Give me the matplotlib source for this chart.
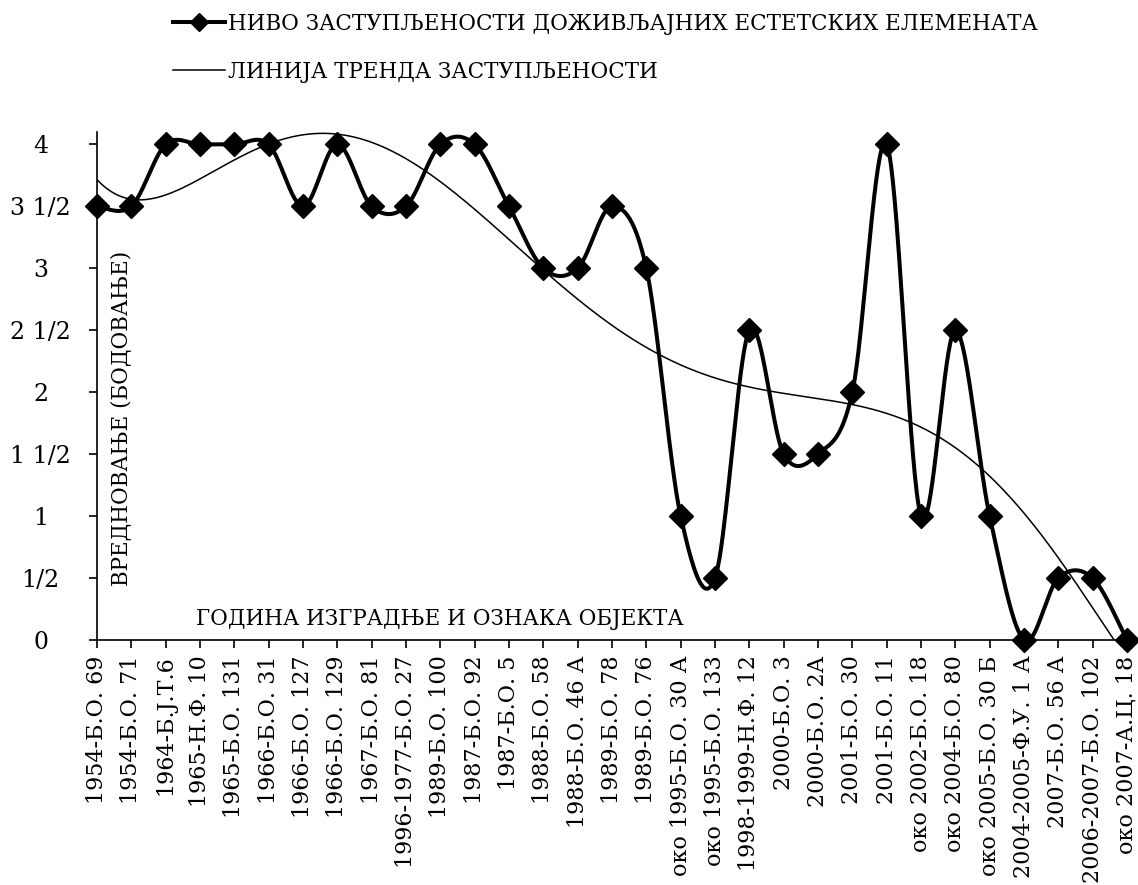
import numpy as np
import matplotlib
matplotlib.use("Agg")
import matplotlib.pyplot as plt

plt.rcParams["font.family"] = ["DejaVu Serif"]

labels = [
    "1954-Б.О. 69", "1954-Б.О. 71", "1964-Б.Ј.Т.6", "1965-Н.Ф. 10", "1965-Б.О. 131",
    "1966-Б.О. 31", "1966-Б.О. 127", "1966-Б.О. 129", "1967-Б.О. 81", "1996-1977-Б.О. 27",
    "1989-Б.О. 100", "1987-Б.О. 92", "1987-Б.О. 5", "1988-Б.О. 58", "1988-Б.О. 46 А",
    "1989-Б.О. 78", "1989-Б.О. 76", "око 1995-Б.О. 30 А", "око 1995-Б.О. 133",
    "1998-1999-Н.Ф. 12", "2000-Б.О. 3", "2000-Б.О. 2А", "2001-Б.О. 30", "2001-Б.О. 11",
    "око 2002-Б.О. 18", "око 2004-Б.О. 80", "око 2005-Б.О. 30 Б", "2004-2005-Ф.У. 1 А",
    "2007-Б.О. 56 А", "2006-2007-Б.О. 102", "око 2007-А.Ц. 18",
]
scores = [3.5, 3.5, 4, 4, 4, 4, 3.5, 4, 3.5, 3.5, 4, 4, 3.5, 3, 3, 3.5, 3,
          1, 0.5, 2.5, 1.5, 1.5, 2, 4, 1, 2.5, 1, 0, 0.5, 0.5, 0]
ytick_vals = [0, 0.5, 1, 1.5, 2, 2.5, 3, 3.5, 4]
ytick_text = ["0", "1/2", "1", "1 1/2", "2", "2 1/2", "3", "3 1/2", "4"]


def smooth_line(x, y, steps=40):
    """Cubic Bezier smoothing through every point (Catmull-Rom style)."""
    x = np.asarray(x, float)
    y = np.asarray(y, float)
    px = np.concatenate([[x[0]], x, [x[-1]]])
    py = np.concatenate([[y[0]], y, [y[-1]]])
    t = np.linspace(0, 1, steps)[:, None]
    xs, ys = [], []
    for i in range(1, len(x)):
        p0 = np.array([px[i], py[i]])
        p3 = np.array([px[i + 1], py[i + 1]])
        c1 = p0 + (p3 - np.array([px[i - 1], py[i - 1]])) / 6
        c2 = p3 - (np.array([px[i + 2], py[i + 2]]) - p0) / 6
        seg = ((1 - t) ** 3) * p0 + 3 * ((1 - t) ** 2) * t * c1 \
            + 3 * (1 - t) * t ** 2 * c2 + t ** 3 * p3
        xs.append(seg[:, 0])
        ys.append(seg[:, 1])
    return np.concatenate(xs), np.concatenate(ys)


x = np.arange(len(scores))
sx, sy = smooth_line(x, scores)

# polynomial trend of the scores
coef = np.polyfit(x + 1, scores, 6)
tx = np.linspace(0, len(scores) - 1, 400)
ty = np.polyval(coef, tx + 1)

fig = plt.figure(figsize=(11.38, 8.85), dpi=100)
ax = fig.add_axes([97 / 1138, 245 / 885, 1030 / 1138, 508 / 885])

ax.plot(sx, sy, color="black", lw=2.9, solid_capstyle="round", clip_on=False, zorder=3)
ax.plot(x, scores, linestyle="none", marker="D", ms=12, color="black",
        clip_on=False, zorder=4)
ax.plot(tx, ty, color="black", lw=1.1, zorder=2)

# legend handles
ax.plot([], [], color="black", lw=2.9, marker="D", ms=9,
        label="НИВО ЗАСТУПЉЕНОСТИ ДОЖИВЉАЈНИХ ЕСТЕТСКИХ ЕЛЕМЕНАТА")
ax.plot([], [], color="black", lw=1.1, label="ЛИНИЈА ТРЕНДА ЗАСТУПЉЕНОСТИ")
ax.legend(loc="upper left", bbox_to_anchor=(173 / 1138, 1 - 13 / 885),
          bbox_transform=fig.transFigure, frameon=False, fontsize=15.5,
          handlelength=2.4, handletextpad=0.15, labelspacing=1.2,
          borderpad=0, borderaxespad=0)

ax.set_xlim(0, len(scores) - 1)
ax.set_ylim(0, 4.1)
ax.set_xticks(x)
ax.set_xticklabels(labels, rotation=90, fontsize=16)
ax.set_yticks(ytick_vals)
ax.set_yticklabels(ytick_text, fontsize=17, ha="center")

for side in ["top", "right"]:
    ax.spines[side].set_visible(False)
for side in ["left", "bottom"]:
    ax.spines[side].set_linewidth(1.2)
ax.tick_params(axis="both", direction="out", length=6, width=1.2, color="black")
ax.tick_params(axis="y", pad=34.5)
ax.tick_params(axis="x", pad=5)

ax.text(122 / 1138, 1 - 418 / 885, "ВРЕДНОВАЊЕ (БОДОВАЊЕ)", transform=fig.transFigure,
        rotation=90, ha="center", va="center", fontsize=15.5)
ax.text(440 / 1138, 1 - 619 / 885, "ГОДИНА ИЗГРАДЊЕ И ОЗНАКА ОБЈЕКТА",
        transform=fig.transFigure, ha="center", va="center", fontsize=15.5)

fig.savefig("out.png", dpi=100)
